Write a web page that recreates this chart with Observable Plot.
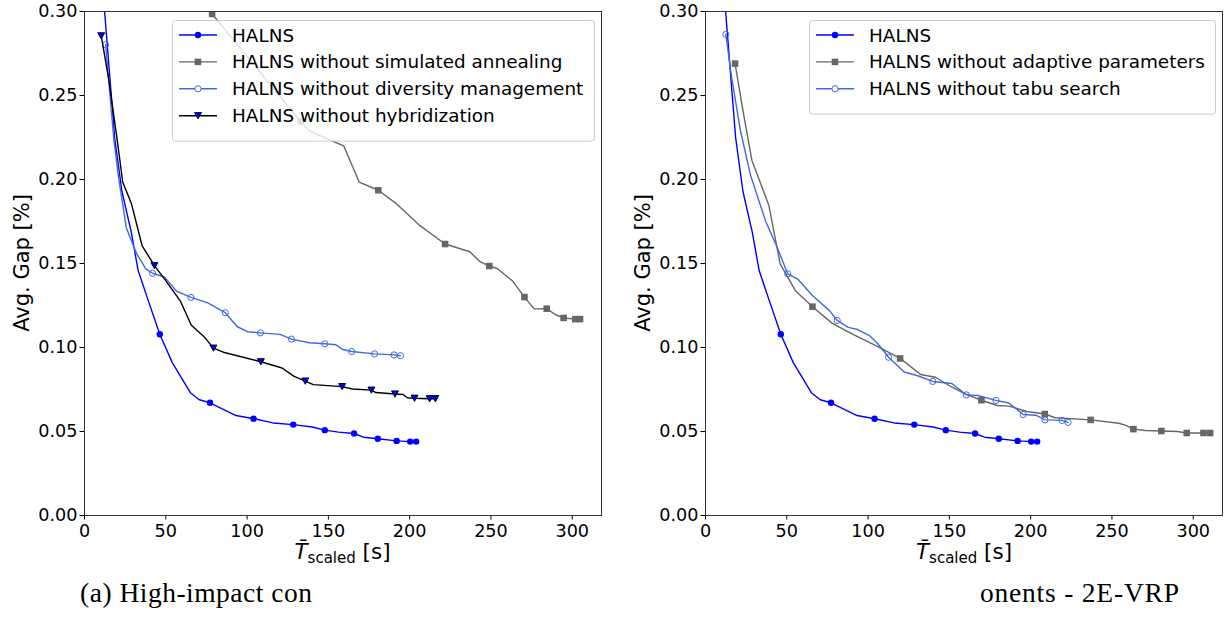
<!DOCTYPE html>
<html><head><meta charset="utf-8">
<script src="https://cdn.jsdelivr.net/npm/d3@7"></script>
<script src="https://cdn.jsdelivr.net/npm/@observablehq/plot@0.6"></script>
<style>
html,body{margin:0;padding:0;background:#fff;}
#root{position:relative;width:1226px;height:619px;overflow:hidden;font-family:"DejaVu Sans",sans-serif;}
.panel{position:absolute;top:0;}
#overlay{position:absolute;left:0;top:0;pointer-events:none;}
</style>
</head><body>
<div id="root"></div>
<script>
// ---------- data ----------
const xTicks = [0, 50, 100, 150, 200, 250, 300];
const yTicks = [0, 0.05, 0.10, 0.15, 0.20, 0.25, 0.30];
const yAxisLabel = "Avg. Gap [%]";
const xAxisLabelParts = ["T\u0304", "scaled", " [s]"];
const captions = ["(a) High-impact con", "onents - 2E-VRP"];
const leftLabels = ["HALNS", "HALNS without simulated annealing", "HALNS without diversity management", "HALNS without hybridization"];
const rightLabels = ["HALNS", "HALNS without adaptive parameters", "HALNS without tabu search"];

// [time, gap, marker]
const halns = [
  [11.3, 0.313, 1], [18.5, 0.2252, 0], [23.0, 0.193, 0], [28.8, 0.1685, 0], [33.0, 0.1458, 0],
  [38.5, 0.130, 0], [46.3, 0.1079, 1], [54.0, 0.0910, 0], [65.3, 0.0729, 0], [70.6, 0.0689, 0],
  [77.2, 0.0671, 1], [93.2, 0.0595, 0], [104.0, 0.0576, 1], [116.0, 0.0551, 0], [128.4, 0.0541, 1],
  [140.0, 0.0527, 0], [147.8, 0.0508, 1], [156.2, 0.0496, 0], [165.8, 0.0488, 1], [171.6, 0.0466, 0],
  [180.4, 0.0457, 1], [192.0, 0.0444, 1], [200.3, 0.0440, 1], [204.0, 0.0440, 1]
];
const noAnnealing = [
  [78.5, 0.2985, 1], [133.0, 0.2345, 1], [138.3, 0.229, 0], [148.0, 0.2247, 0], [159.5, 0.220, 0],
  [169.0, 0.1984, 0], [180.7, 0.1936, 1], [191.2, 0.1861, 0], [205.7, 0.173, 0], [221.8, 0.1616, 1],
  [237.0, 0.157, 0], [243.0, 0.1513, 0], [249.0, 0.1485, 1], [253.8, 0.147, 0], [263.4, 0.1395, 0],
  [270.6, 0.130, 1], [276.6, 0.123, 0], [284.3, 0.1231, 1], [289.8, 0.1195, 0], [294.7, 0.1176, 1],
  [301.9, 0.1169, 1], [304.8, 0.1169, 1]
];
const noDiversity = [
  [13.0, 0.2802, 1], [18.1, 0.2232, 0], [21.0, 0.201, 0], [25.7, 0.1713, 0], [32.0, 0.156, 0],
  [37.8, 0.1466, 0], [41.9, 0.1442, 1], [49.3, 0.1419, 0], [56.5, 0.1336, 0], [65.5, 0.1298, 1],
  [75.8, 0.1266, 0], [86.6, 0.1207, 1], [93.8, 0.1125, 0], [100.3, 0.1094, 0], [108.2, 0.1087, 1],
  [120.3, 0.1078, 0], [127.3, 0.1050, 1], [138.3, 0.1028, 0], [147.8, 0.1022, 1], [154.7, 0.1016, 0],
  [158.8, 0.0988, 0], [164.3, 0.0976, 1], [178.4, 0.0962, 1], [190.4, 0.0956, 1], [194.3, 0.0951, 1]
];
const noHybrid = [
  [10.3, 0.2855, 1], [15.0, 0.259, 0], [20.2, 0.223, 0], [23.5, 0.1985, 0], [28.9, 0.1855, 0],
  [35.4, 0.1607, 0], [43.0, 0.1487, 1], [49.3, 0.1407, 0], [58.9, 0.1278, 0], [65.7, 0.1132, 0],
  [73.4, 0.1066, 0], [79.3, 0.0996, 1], [85.4, 0.0972, 0], [108.5, 0.0915, 1], [121.5, 0.0878, 0],
  [128.7, 0.083, 0], [135.8, 0.0800, 1], [140.7, 0.0779, 0], [158.5, 0.0767, 1], [164.8, 0.0753, 0],
  [176.5, 0.0746, 1], [179.2, 0.0732, 0], [191.0, 0.0723, 1], [196.0, 0.072, 0], [198.5, 0.0701, 0],
  [203.0, 0.0698, 1], [212.3, 0.0695, 1], [215.8, 0.0695, 1]
];
const noAdaptive = [
  [18.2, 0.2690, 1], [23.1, 0.2407, 0], [28.5, 0.2115, 0], [39.0, 0.1845, 0], [45.9, 0.1498, 0],
  [55.3, 0.1338, 0], [61.2, 0.1284, 0], [65.8, 0.1243, 1], [77.8, 0.1145, 0], [90.1, 0.1081, 0],
  [104.5, 0.1012, 0], [119.7, 0.0935, 1], [132.3, 0.0839, 0], [141.5, 0.0823, 0], [150.8, 0.0768, 0],
  [159.7, 0.0724, 0], [169.7, 0.0686, 1], [179.6, 0.0655, 0], [186.8, 0.0651, 0], [197.7, 0.0619, 0],
  [208.7, 0.0604, 1], [215.1, 0.0582, 0], [236.9, 0.0569, 1], [254.2, 0.0549, 0], [258.6, 0.0536, 0],
  [263.2, 0.0514, 1], [270.6, 0.0506, 0], [280.4, 0.0503, 1], [290.1, 0.0500, 0], [296.0, 0.0491, 1],
  [306.3, 0.0491, 1], [310.4, 0.0491, 1]
];
const noTabu = [
  [12.5, 0.2864, 1], [15.9, 0.2619, 0], [21.5, 0.229, 0], [27.8, 0.2022, 0], [37.0, 0.1752, 0],
  [43.6, 0.1607, 0], [50.6, 0.1438, 1], [57.0, 0.1405, 0], [65.6, 0.1311, 0], [76.4, 0.1218, 0],
  [81.0, 0.1161, 1], [87.8, 0.1120, 0], [93.6, 0.1107, 0], [100.8, 0.1071, 0], [106.0, 0.1022, 0],
  [112.6, 0.0942, 1], [122.2, 0.0854, 0], [130.5, 0.0832, 0], [139.8, 0.0798, 1], [151.5, 0.0786, 0],
  [160.4, 0.0718, 1], [167.6, 0.0714, 0], [178.6, 0.0685, 1], [186.5, 0.0670, 0], [190.4, 0.0640, 0],
  [195.4, 0.0601, 1], [203.2, 0.0597, 0], [208.8, 0.0569, 1], [219.3, 0.0566, 1], [223.0, 0.0554, 1]
];

// ---------- styles ----------
const triangleDown = {
  draw(ctx, size) {
    const r = Math.sqrt(size / Math.PI);
    ctx.moveTo(-r, -r * 0.9); ctx.lineTo(r, -r * 0.9); ctx.lineTo(0, r * 0.9); ctx.closePath();
  }
};
const stBlue  = {color: "#0000ff", symbol: "circle", r: 3.2, fill: "#0000ff", stroke: "none", sw: 0, kind: "circle"};
const stGray  = {color: "#666666", symbol: "square", r: 3.7, fill: "#666666", stroke: "none", sw: 0, kind: "square"};
const stLight = {color: "#4169e1", symbol: "circle", r: 3.1, fill: "none", stroke: "#4169e1", sw: 1, kind: "open"};
const stBlack = {color: "#000000", symbol: triangleDown, r: 3.5, fill: "#0000ff", stroke: "#000000", sw: 0.9, kind: "tri"};

const leftSeries = [
  {data: halns, st: stBlue}, {data: noAnnealing, st: stGray},
  {data: noDiversity, st: stLight}, {data: noHybrid, st: stBlack}
];
const rightSeries = [
  {data: halns, st: stBlue}, {data: noAdaptive, st: stGray}, {data: noTabu, st: stLight}
];

function panel(series, mLeft, mRight) {
  const marks = [
    Plot.axisX({ticks: xTicks, tickSize: 4.5, tickPadding: 4, label: null, tickFormat: d3.format("d")}),
    Plot.axisY({ticks: yTicks, tickSize: 4.5, tickPadding: 2.5, label: null, tickFormat: d3.format(".2f")})
  ];
  for (const s of series) {
    marks.push(Plot.line(s.data, {x: d => d[0], y: d => d[1], stroke: s.st.color, strokeWidth: 1.4, clip: true}));
    marks.push(Plot.dot(s.data.filter(d => d[2]), {
      x: d => d[0], y: d => d[1], symbol: s.st.symbol, r: s.st.r,
      fill: s.st.fill, stroke: s.st.stroke, strokeWidth: s.st.sw, clip: true
    }));
  }
  marks.push(Plot.frame({stroke: "#333", strokeWidth: 1}));
  return Plot.plot({
    width: 610, height: 570,
    marginLeft: mLeft, marginRight: mRight, marginTop: 11, marginBottom: 55,
    x: {domain: [0, 318]},
    y: {domain: [0, 0.30]},
    style: {fontFamily: "DejaVu Sans", fontSize: "17.6px", color: "#000", background: "transparent", overflow: "visible"},
    marks
  });
}

const root = document.getElementById("root");
const pL = panel(leftSeries, 84, 9);
pL.classList.add("panel"); pL.style.left = "0px";
const pR = panel(rightSeries, 89, 4);
pR.classList.add("panel"); pR.style.left = "616px";
root.appendChild(pL); root.appendChild(pR);

// ---------- overlay: axis titles, legends, captions ----------
const svg = d3.select(root).append("svg").attr("id", "overlay")
  .attr("width", 1226).attr("height", 619)
  .style("font-family", "DejaVu Sans");

for (const cx of [22, 643]) {
  svg.append("text").attr("transform", `translate(${cx},263) rotate(-90)`)
    .attr("text-anchor", "middle").attr("dominant-baseline", "central")
    .attr("font-size", 21).text(yAxisLabel);
}
for (const cx of [342.5, 964]) {
  const t = svg.append("text").attr("x", cx).attr("y", 559).attr("text-anchor", "middle").attr("font-size", 21.5);
  t.append("tspan").attr("font-style", "italic").text(xAxisLabelParts[0]);
  t.append("tspan").attr("font-size", 15).attr("dy", 4).text(xAxisLabelParts[1]);
  t.append("tspan").attr("dy", -4).text(xAxisLabelParts[2]);
}

function legend(x, y, w, labels, styles) {
  const g = svg.append("g");
  const h = 13 + labels.length * 26.9;
  g.append("rect").attr("x", x + 0.5).attr("y", y + 0.5).attr("width", w).attr("height", h)
    .attr("rx", 3).attr("fill", "#fff").attr("fill-opacity", 0.8).attr("stroke", "#cccccc");
  labels.forEach((lab, i) => {
    const cy = y + 15 + i * 26.9;
    const st = styles[i];
    g.append("line").attr("x1", x + 7).attr("x2", x + 45).attr("y1", cy).attr("y2", cy)
      .attr("stroke", st.color).attr("stroke-width", 1.4);
    const mx = x + 26;
    if (st.kind === "circle") g.append("circle").attr("cx", mx).attr("cy", cy).attr("r", st.r).attr("fill", st.fill);
    else if (st.kind === "open") g.append("circle").attr("cx", mx).attr("cy", cy).attr("r", st.r).attr("fill", "#fff").attr("stroke", st.stroke);
    else if (st.kind === "square") { const s = Math.sqrt(Math.PI) * st.r; g.append("rect").attr("x", mx - s / 2).attr("y", cy - s / 2).attr("width", s).attr("height", s).attr("fill", st.fill); }
    else { const r = st.r; g.append("path").attr("d", `M${mx - r},${cy - r * 0.9}L${mx + r},${cy - r * 0.9}L${mx},${cy + r * 0.9}Z`).attr("fill", st.fill).attr("stroke", st.stroke).attr("stroke-width", st.sw); }
    g.append("text").attr("x", x + 60).attr("y", cy).attr("dominant-baseline", "central")
      .attr("font-size", 18.4).text(lab);
  });
}
legend(172, 20, 422, leftLabels, leftSeries.map(s => s.st));
legend(809, 20, 406, rightLabels, rightSeries.map(s => s.st));

svg.append("text").attr("x", 80).attr("y", 602).attr("font-family", "Liberation Serif")
  .attr("font-size", 27.5).attr("textLength", 232).attr("lengthAdjust", "spacing").text(captions[0]);
svg.append("text").attr("x", 980).attr("y", 602).attr("font-family", "Liberation Serif")
  .attr("font-size", 27.5).attr("textLength", 199).attr("lengthAdjust", "spacing").text(captions[1]);
</script>
</body></html>
